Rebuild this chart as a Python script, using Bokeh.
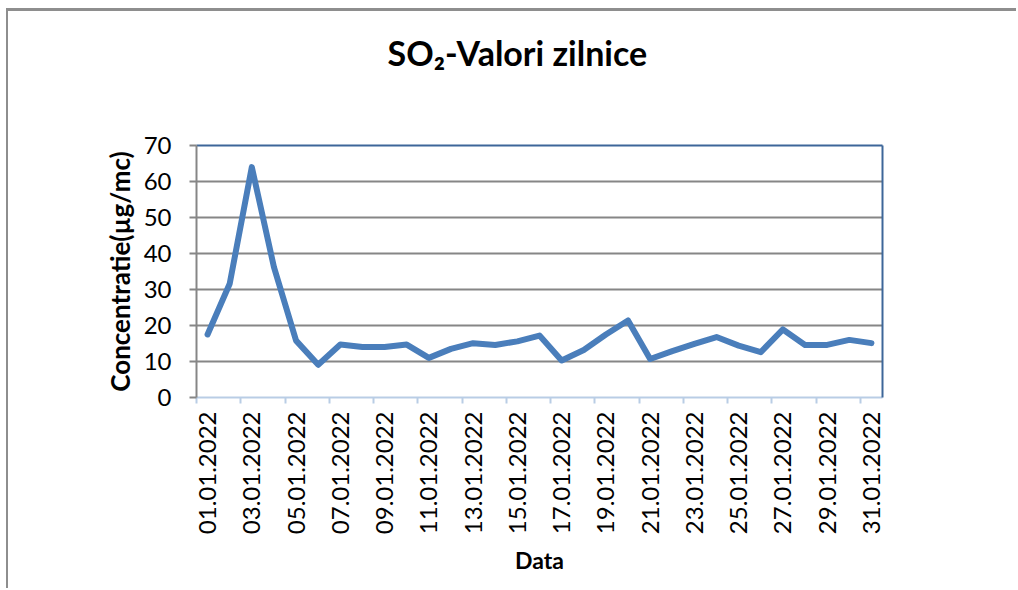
import math
from bokeh.plotting import figure
from bokeh.models import Range1d, FixedTicker, LinearAxis, ColumnDataSource
from bokeh.embed import file_html
from bokeh.resources import INLINE

# ---- data ----
dates = ["01.01.2022", "02.01.2022", "03.01.2022", "04.01.2022", "05.01.2022",
         "06.01.2022", "07.01.2022", "08.01.2022", "09.01.2022", "10.01.2022",
         "11.01.2022", "12.01.2022", "13.01.2022", "14.01.2022", "15.01.2022",
         "16.01.2022", "17.01.2022", "18.01.2022", "19.01.2022", "20.01.2022",
         "21.01.2022", "22.01.2022", "23.01.2022", "24.01.2022", "25.01.2022",
         "26.01.2022", "27.01.2022", "28.01.2022", "29.01.2022", "30.01.2022",
         "31.01.2022"]
so2_values = [17.5, 31.6, 64.0, 36.2, 15.8, 9.1, 14.7, 14.0, 14.0, 14.7,
              11.0, 13.5, 15.1, 14.6, 15.6, 17.2, 10.3, 13.2, 17.5, 21.4,
              10.7, 12.9, 14.9, 16.8, 14.4, 12.6, 18.9, 14.6, 14.6, 16.0, 15.1]
y_ticks = [0, 10, 20, 30, 40, 50, 60, 70]
title_text = "SO\u2082-Valori zilnice"
x_title = "Data"
y_title = "Concentratie(\u00b5g/mc)"

FONT = "Lato"
GRID = "#868686"
LINE = "#4A7EBB"
DARK = "#3D6699"
LIGHT = "#B9CDE5"

n = len(dates)
xs = list(range(1, n + 1))
src = ColumnDataSource(dict(x=xs, y=so2_values, d=dates))

W, H = 1010, 580
p = figure(width=W, height=H, output_backend="svg", toolbar_location=None,
           x_range=Range1d(0.5, n + 0.5), y_range=Range1d(y_ticks[0], y_ticks[-1]),
           min_border_left=188, min_border_right=136, min_border_top=134,
           min_border_bottom=194, outline_line_color=None,
           background_fill_color="white", border_fill_color="white")
p.styles = {"margin-left": "6px", "margin-top": "8px",
            "border-left": "2px solid #8e8e8e", "border-top": "3px solid #8e8e8e"}

# grid
p.xgrid.visible = False
p.ygrid.ticker = FixedTicker(ticks=y_ticks)
p.ygrid.grid_line_color = GRID
p.ygrid.grid_line_width = 2

# y axis
ya = p.yaxis[0]
ya.ticker = FixedTicker(ticks=y_ticks)
ya.axis_line_color = GRID
ya.axis_line_width = 2
ya.major_tick_line_color = GRID
ya.major_tick_line_width = 2
ya.major_tick_out = 7
ya.major_tick_in = 0
ya.minor_tick_line_color = None
ya.major_label_text_font = FONT
ya.major_label_text_font_size = "24px"
ya.major_label_text_color = "black"
ya.major_label_standoff = 18
ya.axis_label = y_title
ya.axis_label_text_font = FONT
ya.axis_label_text_font_style = "bold"
ya.axis_label_text_font_size = "26px"
ya.axis_label_text_color = "black"
ya.axis_label_standoff = 5

# x axis
xa = p.xaxis[0]
xa.ticker = FixedTicker(ticks=xs[::2], minor_ticks=[x - 0.5 for x in xs[::2]])
xa.major_label_overrides = {x: d for x, d in zip(xs, dates)}
xa.major_label_orientation = math.pi / 2
xa.axis_line_color = LIGHT
xa.axis_line_width = 2
xa.major_tick_out = 0
xa.major_tick_in = 0
xa.minor_tick_line_color = LIGHT
xa.minor_tick_line_width = 2
xa.minor_tick_out = 6
xa.minor_tick_in = 0
xa.major_label_text_font = FONT
xa.major_label_text_font_size = "24px"
xa.major_label_text_color = "black"
xa.major_label_standoff = 8
xa.axis_label = x_title
xa.axis_label_text_font = FONT
xa.axis_label_text_font_style = "bold"
xa.axis_label_text_font_size = "23px"
xa.axis_label_text_color = "black"
xa.axis_label_standoff = 9

# top border axis carrying the chart title
top_ax = LinearAxis(ticker=FixedTicker(ticks=[15]), axis_line_color=DARK, axis_line_width=2,
                    major_tick_line_color=None, minor_tick_line_color=None,
                    major_tick_out=0, major_tick_in=0,
                    major_label_overrides={15: title_text},
                    major_label_text_font=FONT, major_label_text_font_style="bold",
                    major_label_text_font_size="34px", major_label_text_color="black",
                    major_label_standoff=73)
p.add_layout(top_ax, "above")

# right frame border
right_ax = LinearAxis(ticker=FixedTicker(ticks=[]), axis_line_color=DARK, axis_line_width=2,
                      major_tick_line_color=None, minor_tick_line_color=None,
                      major_label_text_font_size="0px")
p.add_layout(right_ax, "right")

p.line("x", "y", source=src, line_color=LINE, line_width=6, line_join="round", line_cap="round")

open("out.html", "w").write(file_html(p, INLINE))
